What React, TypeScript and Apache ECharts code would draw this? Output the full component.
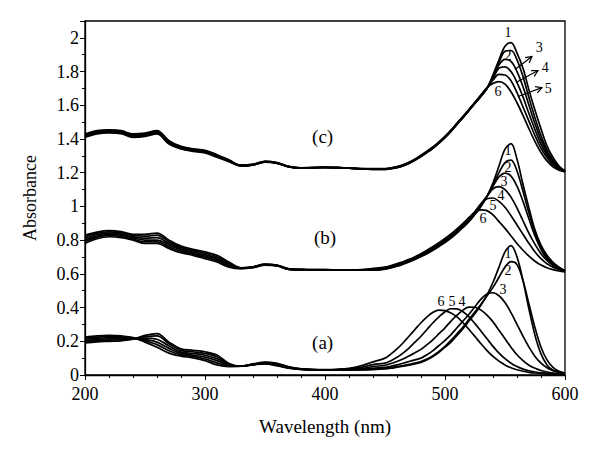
import React, { useEffect, useRef } from "react";
import * as echarts from "echarts";

// Wavelength grid (nm): 10 nm steps to 440, then 5 nm steps to 600
const wavelengths = [
  200, 210, 220, 230, 240, 250, 260, 270, 280, 290, 300, 310, 320, 330, 340, 350, 360, 370, 380, 390, 400, 410, 420, 430, 440,
  450, 455, 460, 465, 470, 475, 480, 485, 490, 495, 500, 505, 510, 515, 520, 525, 530, 535, 540, 545, 550, 555, 560, 565, 570, 575, 580, 585, 590, 595, 600,
];

// (a) spectra 1–6
const a1 = [0.19, 0.197, 0.2, 0.203, 0.212, 0.235, 0.245, 0.195, 0.155, 0.147, 0.138, 0.118, 0.068, 0.052, 0.06, 0.066, 0.055, 0.04, 0.033, 0.03, 0.03, 0.03, 0.03, 0.03, 0.032,
  0.036, 0.04, 0.046, 0.052, 0.058, 0.066, 0.075, 0.09, 0.11, 0.135, 0.165, 0.195, 0.235, 0.275, 0.32, 0.365, 0.415, 0.475, 0.55, 0.64, 0.73, 0.768, 0.7, 0.56, 0.39, 0.235, 0.125, 0.06, 0.028, 0.014, 0.008];
const a2 = [0.197, 0.204, 0.207, 0.209, 0.214, 0.228, 0.232, 0.185, 0.146, 0.138, 0.128, 0.108, 0.064, 0.052, 0.061, 0.068, 0.057, 0.041, 0.033, 0.03, 0.03, 0.03, 0.03, 0.031, 0.034,
  0.04, 0.045, 0.05, 0.056, 0.063, 0.07, 0.08, 0.095, 0.115, 0.14, 0.17, 0.205, 0.245, 0.285, 0.33, 0.375, 0.42, 0.47, 0.52, 0.58, 0.64, 0.672, 0.655, 0.56, 0.42, 0.28, 0.165, 0.09, 0.045, 0.022, 0.012];
const a3 = [0.204, 0.211, 0.214, 0.216, 0.216, 0.219, 0.212, 0.172, 0.136, 0.128, 0.117, 0.097, 0.06, 0.052, 0.062, 0.07, 0.06, 0.043, 0.034, 0.031, 0.03, 0.03, 0.031, 0.033, 0.04,
  0.045, 0.052, 0.06, 0.07, 0.08, 0.09, 0.1, 0.12, 0.145, 0.175, 0.205, 0.24, 0.28, 0.32, 0.36, 0.405, 0.45, 0.48, 0.488, 0.47, 0.43, 0.37, 0.3, 0.23, 0.165, 0.11, 0.07, 0.043, 0.026, 0.016, 0.01];
const a4 = [0.211, 0.218, 0.221, 0.222, 0.218, 0.21, 0.195, 0.158, 0.127, 0.118, 0.106, 0.085, 0.056, 0.052, 0.063, 0.072, 0.063, 0.045, 0.035, 0.031, 0.03, 0.031, 0.033, 0.038, 0.05,
  0.058, 0.068, 0.08, 0.095, 0.113, 0.132, 0.152, 0.18, 0.21, 0.245, 0.28, 0.32, 0.355, 0.385, 0.403, 0.402, 0.385, 0.355, 0.315, 0.265, 0.215, 0.165, 0.12, 0.085, 0.058, 0.04, 0.027, 0.018, 0.012, 0.008, 0.006];
const a5 = [0.218, 0.225, 0.228, 0.227, 0.22, 0.203, 0.18, 0.144, 0.119, 0.11, 0.095, 0.072, 0.053, 0.052, 0.064, 0.074, 0.066, 0.047, 0.036, 0.032, 0.031, 0.032, 0.036, 0.045, 0.062,
  0.07, 0.085, 0.105, 0.13, 0.16, 0.195, 0.23, 0.27, 0.31, 0.345, 0.375, 0.393, 0.392, 0.375, 0.345, 0.305, 0.26, 0.215, 0.17, 0.13, 0.097, 0.07, 0.05, 0.035, 0.025, 0.018, 0.013, 0.01, 0.008, 0.006, 0.005];
const a6 = [0.225, 0.232, 0.235, 0.232, 0.222, 0.195, 0.165, 0.13, 0.112, 0.102, 0.085, 0.06, 0.05, 0.052, 0.065, 0.076, 0.069, 0.049, 0.037, 0.033, 0.032, 0.034, 0.04, 0.055, 0.078,
  0.1, 0.125, 0.155, 0.19, 0.23, 0.27, 0.31, 0.345, 0.372, 0.385, 0.382, 0.368, 0.345, 0.31, 0.27, 0.228, 0.185, 0.145, 0.11, 0.082, 0.06, 0.043, 0.031, 0.022, 0.016, 0.012, 0.01, 0.008, 0.007, 0.006, 0.005];

// (b) spectra 1–6
const b1 = [0.83, 0.848, 0.856, 0.85, 0.835, 0.835, 0.842, 0.8, 0.765, 0.745, 0.73, 0.71, 0.67, 0.636, 0.642, 0.658, 0.652, 0.63, 0.626, 0.625, 0.625, 0.624, 0.623, 0.622, 0.622,
  0.628, 0.635, 0.645, 0.657, 0.67, 0.685, 0.702, 0.72, 0.74, 0.762, 0.785, 0.812, 0.842, 0.875, 0.91, 0.952, 1.0, 1.06, 1.14, 1.24, 1.34, 1.372, 1.28, 1.13, 0.99, 0.86, 0.77, 0.71, 0.668, 0.64, 0.618];
const b2 = [0.82, 0.84, 0.849, 0.843, 0.828, 0.824, 0.83, 0.79, 0.757, 0.738, 0.722, 0.702, 0.664, 0.635, 0.641, 0.657, 0.651, 0.629, 0.626, 0.625, 0.625, 0.624, 0.623, 0.622, 0.622,
  0.63, 0.638, 0.648, 0.66, 0.673, 0.688, 0.705, 0.724, 0.744, 0.766, 0.79, 0.817, 0.847, 0.88, 0.915, 0.957, 1.005, 1.06, 1.125, 1.2, 1.26, 1.275, 1.21, 1.09, 0.96, 0.845, 0.76, 0.7, 0.662, 0.636, 0.617];
const b3 = [0.81, 0.832, 0.842, 0.836, 0.82, 0.812, 0.815, 0.78, 0.749, 0.73, 0.714, 0.694, 0.658, 0.634, 0.64, 0.655, 0.65, 0.628, 0.625, 0.624, 0.624, 0.623, 0.622, 0.622, 0.623,
  0.632, 0.64, 0.651, 0.663, 0.676, 0.692, 0.709, 0.728, 0.749, 0.771, 0.795, 0.822, 0.852, 0.885, 0.92, 0.962, 1.01, 1.06, 1.12, 1.175, 1.198, 1.18, 1.12, 1.03, 0.925, 0.825, 0.745, 0.69, 0.655, 0.632, 0.616];
const b4 = [0.8, 0.824, 0.835, 0.829, 0.813, 0.8, 0.8, 0.77, 0.741, 0.723, 0.706, 0.686, 0.652, 0.633, 0.639, 0.654, 0.649, 0.627, 0.625, 0.624, 0.624, 0.623, 0.622, 0.623, 0.625,
  0.635, 0.643, 0.654, 0.666, 0.68, 0.696, 0.713, 0.733, 0.754, 0.776, 0.8, 0.827, 0.857, 0.89, 0.925, 0.967, 1.015, 1.06, 1.105, 1.118, 1.1, 1.055, 0.99, 0.915, 0.84, 0.775, 0.72, 0.68, 0.65, 0.63, 0.615];
const b5 = [0.79, 0.816, 0.828, 0.822, 0.806, 0.79, 0.79, 0.76, 0.733, 0.716, 0.698, 0.678, 0.646, 0.632, 0.638, 0.653, 0.648, 0.627, 0.624, 0.623, 0.623, 0.622, 0.622, 0.624, 0.628,
  0.637, 0.646, 0.657, 0.669, 0.683, 0.699, 0.717, 0.737, 0.758, 0.78, 0.805, 0.832, 0.862, 0.895, 0.93, 0.97, 1.015, 1.045, 1.05, 1.03, 0.995, 0.945, 0.89, 0.835, 0.78, 0.73, 0.69, 0.66, 0.64, 0.625, 0.614];
const b6 = [0.78, 0.808, 0.82, 0.815, 0.8, 0.78, 0.78, 0.75, 0.725, 0.71, 0.69, 0.67, 0.64, 0.631, 0.637, 0.652, 0.647, 0.626, 0.624, 0.623, 0.623, 0.622, 0.622, 0.625, 0.632,
  0.64, 0.649, 0.66, 0.672, 0.686, 0.702, 0.72, 0.74, 0.762, 0.785, 0.81, 0.837, 0.867, 0.9, 0.935, 0.965, 0.98, 0.975, 0.95, 0.91, 0.87, 0.825, 0.78, 0.74, 0.705, 0.675, 0.652, 0.636, 0.625, 0.617, 0.612];

// (c) spectra 1–6
const c1 = [1.43, 1.45, 1.455, 1.45, 1.43, 1.435, 1.45, 1.39, 1.356, 1.342, 1.333, 1.307, 1.276, 1.245, 1.25, 1.268, 1.26, 1.238, 1.229, 1.23, 1.232, 1.23, 1.227, 1.222, 1.22,
  1.22, 1.224, 1.23, 1.24, 1.255, 1.274, 1.296, 1.32, 1.345, 1.375, 1.408, 1.445, 1.487, 1.527, 1.569, 1.612, 1.652, 1.7, 1.78, 1.87, 1.95, 1.972, 1.91, 1.82, 1.69, 1.57, 1.46, 1.36, 1.29, 1.24, 1.21];
const c2 = [1.426, 1.446, 1.451, 1.447, 1.426, 1.431, 1.446, 1.386, 1.353, 1.339, 1.33, 1.304, 1.274, 1.244, 1.249, 1.267, 1.259, 1.237, 1.229, 1.23, 1.232, 1.23, 1.227, 1.222, 1.22,
  1.22, 1.225, 1.231, 1.241, 1.256, 1.275, 1.297, 1.321, 1.346, 1.376, 1.409, 1.446, 1.488, 1.528, 1.57, 1.613, 1.654, 1.7, 1.775, 1.855, 1.92, 1.925, 1.87, 1.77, 1.645, 1.525, 1.42, 1.335, 1.275, 1.235, 1.21];
const c3 = [1.422, 1.442, 1.448, 1.444, 1.422, 1.427, 1.442, 1.382, 1.35, 1.336, 1.327, 1.301, 1.272, 1.243, 1.248, 1.266, 1.258, 1.236, 1.228, 1.23, 1.232, 1.23, 1.227, 1.223, 1.221,
  1.221, 1.226, 1.232, 1.242, 1.257, 1.276, 1.298, 1.322, 1.347, 1.377, 1.41, 1.447, 1.489, 1.529, 1.571, 1.614, 1.656, 1.7, 1.77, 1.84, 1.872, 1.86, 1.8, 1.71, 1.6, 1.49, 1.395, 1.32, 1.265, 1.23, 1.208];
const c4 = [1.418, 1.438, 1.444, 1.44, 1.418, 1.423, 1.438, 1.378, 1.347, 1.333, 1.324, 1.298, 1.27, 1.242, 1.247, 1.265, 1.257, 1.235, 1.228, 1.23, 1.232, 1.23, 1.228, 1.223, 1.222,
  1.222, 1.227, 1.233, 1.243, 1.258, 1.277, 1.3, 1.324, 1.349, 1.379, 1.412, 1.449, 1.49, 1.53, 1.572, 1.615, 1.658, 1.702, 1.76, 1.82, 1.828, 1.8, 1.735, 1.65, 1.55, 1.455, 1.37, 1.305, 1.255, 1.225, 1.207];
const c5 = [1.414, 1.434, 1.44, 1.436, 1.414, 1.419, 1.434, 1.374, 1.344, 1.33, 1.321, 1.295, 1.268, 1.241, 1.246, 1.264, 1.256, 1.235, 1.227, 1.229, 1.231, 1.23, 1.228, 1.224, 1.223,
  1.223, 1.228, 1.234, 1.245, 1.26, 1.279, 1.302, 1.326, 1.351, 1.381, 1.414, 1.451, 1.492, 1.532, 1.574, 1.617, 1.66, 1.703, 1.75, 1.783, 1.78, 1.745, 1.675, 1.59, 1.505, 1.42, 1.345, 1.29, 1.245, 1.22, 1.206];
const c6 = [1.41, 1.43, 1.436, 1.432, 1.41, 1.415, 1.43, 1.37, 1.341, 1.327, 1.318, 1.292, 1.266, 1.24, 1.245, 1.263, 1.255, 1.234, 1.227, 1.229, 1.231, 1.23, 1.228, 1.225, 1.224,
  1.224, 1.229, 1.236, 1.247, 1.262, 1.281, 1.304, 1.328, 1.353, 1.383, 1.416, 1.453, 1.494, 1.534, 1.576, 1.619, 1.662, 1.705, 1.73, 1.74, 1.725, 1.68, 1.615, 1.54, 1.46, 1.385, 1.32, 1.27, 1.235, 1.215, 1.205];

const curves = [a1, a2, a3, a4, a5, a6, b1, b2, b3, b4, b5, b6, c1, c2, c3, c4, c5, c6];
const curveNames = ["a1", "a2", "a3", "a4", "a5", "a6", "b1", "b2", "b3", "b4", "b5", "b6", "c1", "c2", "c3", "c4", "c5", "c6"];

// Annotations in data coordinates [wavelength, absorbance]
const groupLabels = [
  { text: "(c)", at: [398, 1.414] },
  { text: "(b)", at: [400, 0.814] },
  { text: "(a)", at: [398, 0.19] },
];
const curveLabels = [
  { text: "1", at: [552.5, 2.032] },
  { text: "2", at: [552.5, 1.895] },
  { text: "6", at: [544.2, 1.682] },
  { text: "3", at: [578.5, 1.94] },
  { text: "4", at: [583.5, 1.827] },
  { text: "5", at: [586, 1.702] },
  { text: "1", at: [552.5, 1.331] },
  { text: "2", at: [552.5, 1.23] },
  { text: "3", at: [549.2, 1.147] },
  { text: "4", at: [546.7, 1.064] },
  { text: "5", at: [540, 1.004] },
  { text: "6", at: [531.7, 0.927] },
  { text: "1", at: [552.5, 0.719] },
  { text: "2", at: [552.5, 0.618] },
  { text: "3", at: [548.3, 0.505] },
  { text: "4", at: [514.2, 0.434] },
  { text: "5", at: [505.8, 0.434] },
  { text: "6", at: [496.7, 0.434] },
];
const arrows = [
  { from: [558.3, 1.812], to: [572.5, 1.889] },
  { from: [559.2, 1.735], to: [577.5, 1.806] },
  { from: [560.8, 1.652], to: [580.8, 1.705] },
];

const FONT = "'Liberation Serif', 'DejaVu Serif', serif";

export default function App() {
  const ref = useRef<HTMLDivElement>(null);
  useEffect(() => {
    if (!ref.current) return;
    const chart = echarts.init(ref.current, null, { renderer: "svg" });
    const series = curves.map((arr, k) => ({
      name: curveNames[k],
      type: "line",
      data: wavelengths.map((w, i) => [w, arr[i]]),
      showSymbol: false,
      symbol: "none",
      smooth: 0.35,
      lineStyle: { color: "#000", width: 1.7 },
      emphasis: { disabled: true },
      silent: true,
    }));
    chart.setOption({
      animation: false,
      backgroundColor: "#fff",
      grid: { left: 85, right: 35, top: 21, bottom: 81, show: true, borderColor: "#000", borderWidth: 1.3, containLabel: false },
      xAxis: {
        type: "value",
        min: 200,
        max: 600,
        interval: 100,
        name: "Wavelength (nm)",
        nameLocation: "middle",
        nameGap: 42,
        nameTextStyle: { fontFamily: FONT, fontSize: 19, color: "#000" },
        axisLine: { show: true, lineStyle: { color: "#000", width: 1.3 } },
        axisTick: { show: true, length: 5, lineStyle: { color: "#000", width: 1 } },
        minorTick: { show: true, splitNumber: 5, length: 3, lineStyle: { color: "#000", width: 1 } },
        splitLine: { show: false },
        axisLabel: { fontFamily: FONT, fontSize: 18, color: "#000", margin: 10 },
      },
      yAxis: {
        type: "value",
        min: 0,
        max: 2.1,
        interval: 0.2,
        name: "Absorbance",
        nameLocation: "middle",
        nameGap: 46,
        nameTextStyle: { fontFamily: FONT, fontSize: 18, color: "#000" },
        axisLine: { show: true, lineStyle: { color: "#000", width: 1.3 } },
        axisTick: { show: true, length: 5, lineStyle: { color: "#000", width: 1 } },
        minorTick: { show: true, splitNumber: 2, length: 3, lineStyle: { color: "#000", width: 1 } },
        splitLine: { show: false },
        axisLabel: { fontFamily: FONT, fontSize: 18, color: "#000", margin: 6, showMaxLabel: false },
      },
      series,
    });

    const px = (p: number[]) => chart.convertToPixel({ gridIndex: 0 }, p) as number[];
    const graphics: any[] = [];
    groupLabels.forEach((g) => {
      const [x, y] = px(g.at);
      graphics.push({ type: "text", x, y, silent: true, style: { text: g.text, fontFamily: FONT, fontSize: 19, fill: "#000", align: "center", verticalAlign: "middle" } });
    });
    curveLabels.forEach((g) => {
      const [x, y] = px(g.at);
      graphics.push({ type: "text", x, y, silent: true, style: { text: g.text, fontFamily: FONT, fontSize: 14, fill: "#000", align: "center", verticalAlign: "middle" } });
    });
    arrows.forEach((a) => {
      const [x1, y1] = px(a.from);
      const [x2, y2] = px(a.to);
      const ang = Math.atan2(y2 - y1, x2 - x1);
      const L = 7, s = 0.5;
      const h1 = [x2 - L * Math.cos(ang - s), y2 - L * Math.sin(ang - s)];
      const h2 = [x2 - L * Math.cos(ang + s), y2 - L * Math.sin(ang + s)];
      graphics.push({ type: "line", silent: true, shape: { x1, y1, x2, y2 }, style: { stroke: "#000", lineWidth: 1.2 } });
      graphics.push({ type: "polyline", silent: true, shape: { points: [h1, [x2, y2], h2] }, style: { stroke: "#000", lineWidth: 1.2, fill: "none" } });
    });
    chart.setOption({ graphic: graphics });
    return () => chart.dispose();
  }, []);
  return <div ref={ref} style={{ position: "fixed", left: 0, top: 0, width: 600, height: 456, background: "#fff" }} />;
}
